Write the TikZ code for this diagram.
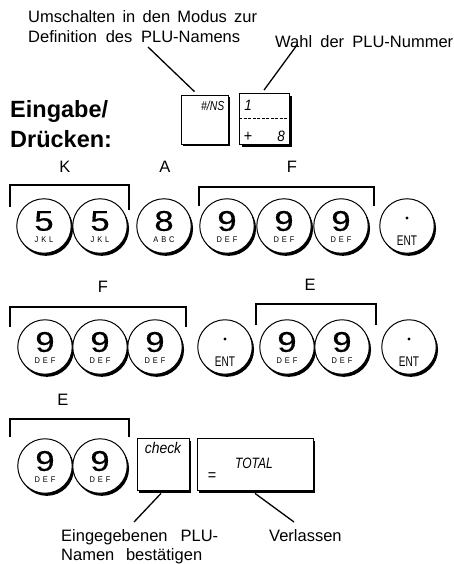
\documentclass[tikz,border=0pt]{standalone}
\usepackage{fontspec}
\setmainfont{Liberation Sans}
\newfontfamily\lblfont{Liberation Sans}
\newfontfamily\digfont[FakeStretch=1.22,FakeBold=0.35]{Liberation Sans}
\newfontfamily\ltrfont[FakeStretch=0.9,LetterSpace=35]{Liberation Sans}
\newfontfamily\entfont[FakeStretch=0.72]{Liberation Sans}
\newfontfamily\kfont[FakeStretch=0.9]{Liberation Sans}
\newfontfamily\kcfont[FakeStretch=0.8]{Liberation Sans}
\usetikzlibrary{shadows}
\tikzset{
  lbl/.style={inner sep=0, font=\lblfont\fontsize{16.5}{19}\selectfont, anchor=base west},
  lblc/.style={inner sep=0, font=\lblfont\fontsize{16.5}{19}\selectfont},
  title/.style={inner sep=0, font=\bfseries\fontsize{23.5}{27}\selectfont, anchor=base west},
  ckey/.style={circle, draw, line width=1pt, fill=white, minimum size=54.5pt, inner sep=0,
    general shadow={fill=black, shadow xshift=1.8pt, shadow yshift=-2.6pt}},
  skey/.style={draw, line width=0.8pt, fill=white, inner sep=0,
    general shadow={fill=black, shadow xshift=2pt, shadow yshift=-2.5pt}},
  digitf/.style={inner sep=0, font=\digfont\fontsize{28.5}{28.5}\selectfont},
  ltrf/.style={inner sep=0, font=\ltrfont\fontsize{8.3}{8.3}\selectfont},
  entf/.style={inner sep=0, font=\entfont\fontsize{14}{14}\selectfont},
  kfi/.style={inner sep=0, font=\kfont\itshape\fontsize{15}{15}\selectfont},
  kfr/.style={inner sep=0, font=\kfont\fontsize{16}{16}\selectfont},
  bracket/.style={line width=1.4pt},
  lead/.style={line width=1.3pt},
}
\newcommand\ckey[4]{%
  \node[ckey] (#1) at (#2) {};
  \node[digitf] (#1d) at ([yshift=5pt]#1.center) {#3};
  \node[ltrf] (#1l) at ([yshift=-14pt]#1.center) {#4};}
\newcommand\entkey[2]{%
  \node[ckey] (#1) at (#2) {};
  \fill ([yshift=8pt]#1.center) circle [radius=1.6pt];
  \node[entf] (#1e) at ([yshift=-14.5pt]#1.center) {ENT};}
\begin{document}
\begin{tikzpicture}[x=1pt,y=-1pt]
\useasboundingbox (0,0) rectangle (454,564);
% top labels
\node[lbl] (t1) at (28,23) {\makebox[229pt][s]{Umschalten in den Modus zur}};
\node[lbl] (t2) at (28,43) {\makebox[212pt][s]{Definition des PLU-Namens}};
\node[lbl] (t3) at (275,48) {\makebox[178pt][s]{Wahl der PLU-Nummer}};
\node[title] (t4) at (10,117.5) {Eingabe/};
\node[title] (t5) at (10,148) {Drücken:};
% top keys
\node[skey, minimum width=47pt, minimum height=49pt] (ins) at (204.5,119.5) {};
\node[kfi, anchor=north east, font=\kcfont\itshape\fontsize{13}{13}\selectfont] (insT) at ([xshift=-4pt,yshift=-6pt]ins.north east) {\#/NS};
\node[skey, minimum width=50pt, minimum height=51pt] (plu) at (264.5,119) {};
\draw[dash pattern=on 3pt off 1.5pt, line width=0.8pt] ([yshift=1pt]plu.west) -- ([yshift=1pt]plu.east);
\node[kfi] (p1) at (248,105) {1};
\node[kfr] (pp) at (248,136.5) {+};
\node[kfi] (p8) at (281,136.5) {8};
\coordinate (a1) at (148,47);
\coordinate (a2) at (297,45);
\draw[lead] (a1) -- ([xshift=-10pt,yshift=3pt]ins.north);
\draw[lead] (a2) -- ([xshift=-0.5pt,yshift=3pt]plu.north);
% row 1
\node[lblc] (lK) at (65,167) {K};
\node[lblc] (lA) at (165,167) {A};
\node[lblc] (lF) at (292,167) {F};
\draw[bracket] (10,207) |- (129,185) -- (129,210);
\draw[bracket] (199,206) |- (374,187) -- (374,206);
\ckey{r1a}{44,226}{5}{JKL}
\ckey{r1b}{100,226}{5}{JKL}
\ckey{r1c}{164,226}{8}{ABC}
\ckey{r1d}{227,226}{9}{DEF}
\ckey{r1e}{284,226}{9}{DEF}
\ckey{r1f}{341,226}{9}{DEF}
\entkey{r1g}{407,226}
% row 2
\node[lblc] (lF2) at (103,287) {F};
\node[lblc] (lE2) at (310,285) {E};
\draw[bracket] (10,327) |- (186,307) -- (186,327);
\draw[bracket] (256,325) |- (376,304) -- (376,325);
\ckey{r2a}{45,347}{9}{DEF}
\ckey{r2b}{100,347}{9}{DEF}
\ckey{r2c}{155,347}{9}{DEF}
\entkey{r2d}{225,347}
\ckey{r2e}{287,347}{9}{DEF}
\ckey{r2f}{342,347}{9}{DEF}
\entkey{r2g}{409,347}
% row 3
\node[lblc] (lE3) at (63,400) {E};
\draw[bracket] (10,437) |- (129,419) -- (129,437);
\ckey{r3a}{45,466}{9}{DEF}
\ckey{r3b}{100,466}{9}{DEF}
\node[skey, minimum width=52pt, minimum height=52pt] (chk) at (163,464) {};
\node[kfi, font=\kfont\itshape\fontsize{15.5}{15.5}\selectfont] (chkT) at (163,448) {check};
\node[skey, minimum width=116pt, minimum height=52pt] (tot) at (255,464) {};
\node[kfi, font=\kcfont\itshape\fontsize{15}{15}\selectfont] (totT) at (254,463) {TOTAL};
\node[kfr] (totE) at (212,477) {=};
% bottom labels
\node[lbl] (b1) at (61,541) {\makebox[157pt][s]{Eingegebenen PLU-}};
\node[lbl] (b2) at (61,560) {\makebox[141pt][s]{Namen bestätigen}};
\node[lbl] (b3) at (269,541) {Verlassen};
\coordinate (c1) at (134,522);
\coordinate (c2) at (294,522);
\draw[lead] ([xshift=-2pt,yshift=-3pt]chk.south) -- (c1);
\draw[lead] ([yshift=-3pt]tot.south) -- (c2);
\end{tikzpicture}
\end{document}
